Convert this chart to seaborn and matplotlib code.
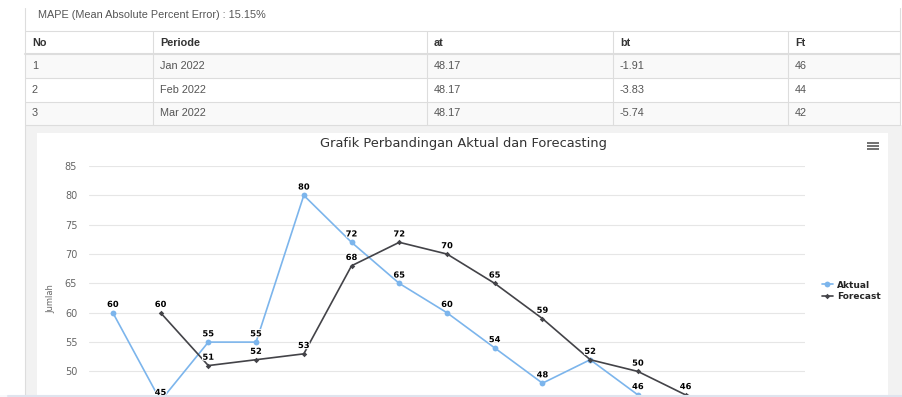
import numpy as np
import pandas as pd
import matplotlib
matplotlib.use("Agg")
import matplotlib.pyplot as plt
import matplotlib.patheffects as pe
from matplotlib.patches import Rectangle
import seaborn as sns

# ---- data ----
mape_text = "MAPE (Mean Absolute Percent Error) : 15.15%"
tbl_cols = ["No", "Periode", "at", "bt", "Ft"]
tbl_no = ["1", "2", "3"]
tbl_periode = ["Jan 2022", "Feb 2022", "Mar 2022"]
tbl_at = ["48.17", "48.17", "48.17"]
tbl_bt = ["-1.91", "-3.83", "-5.74"]
tbl_ft = ["46", "44", "42"]

bulan = ["Jan 2021", "Feb 2021", "Mar 2021", "Apr 2021", "Mei 2021", "Jun 2021",
         "Jul 2021", "Agu 2021", "Sep 2021", "Okt 2021", "Nov 2021", "Des 2021",
         "Jan 2022", "Feb 2022", "Mar 2022"]
aktual = [60, 45, 55, 55, 80, 72, 65, 60, 54, 48, 52, 46, np.nan, np.nan, np.nan]
forecast = [np.nan, 60, 51, 52, 53, 68, 72, 70, 65, 59, 52, 50, 46, 44, 42]

title = "Grafik Perbandingan Aktual dan Forecasting"
warna = {"Aktual": "#7cb5ec", "Forecast": "#434348"}
batas_tampil = 45  # screenshot is cut off below this value

# ---- long format ----
df = pd.DataFrame({"Bulan": bulan, "pos": range(len(bulan)),
                   "Aktual": aktual, "Forecast": forecast})
df = df.melt(id_vars=["Bulan", "pos"], var_name="Seri", value_name="Jumlah").dropna()

sns.set_style("white")
plt.rcParams["font.family"] = ["DejaVu Sans"]

W, H = 902, 397
fig = plt.figure(figsize=(W / 100, H / 100), dpi=100)

# background layer in pixel coordinates (table + panel)
bg = fig.add_axes([0, 0, 1, 1], zorder=0)
bg.set_xlim(0, W)
bg.set_ylim(H, 0)
bg.axis("off")

col_x = [25, 153, 427, 613, 788, 900]
row_y = [31, 54, 78, 102, 125]
line_c = "#dddddd"
tfont = dict(family="Liberation Sans", fontsize=7.8)

# stripes
for r in (0, 2):
    bg.add_patch(Rectangle((col_x[0], row_y[r + 1]), col_x[-1] - col_x[0],
                           row_y[r + 2] - row_y[r + 1], color="#f9f9f9", lw=0))
# panel below table
bg.add_patch(Rectangle((25, 125), 877, 272, color="#f2f2f2", lw=0))
bg.add_patch(Rectangle((37, 133), 851, 264, color="white", lw=0))

bg.plot([25, 25], [8, 397], color=line_c, lw=0.8)
bg.plot([900, 900], [8, 125], color=line_c, lw=0.8)
for i, y in enumerate(row_y):
    bg.plot([25, 900], [y, y], color=line_c, lw=1.5 if i == 1 else 0.8)
for x in col_x[1:-1]:
    bg.plot([x, x], [row_y[0], row_y[-1]], color=line_c, lw=0.8)

bg.text(38, 15, mape_text, color="#555555", va="center", **tfont)
for j, c in enumerate(tbl_cols):
    bg.text(col_x[j] + 7, (row_y[0] + row_y[1]) / 2, c, color="#333333",
            fontweight="bold", va="center", **tfont)
rows = list(zip(tbl_no, tbl_periode, tbl_at, tbl_bt, tbl_ft))
for r, vals in enumerate(rows):
    yc = (row_y[r + 1] + row_y[r + 2]) / 2
    for j, v in enumerate(vals):
        bg.text(col_x[j] + 7, yc, v, color="#555555", va="center", **tfont)

# hamburger menu icon
for y in (143, 146, 149):
    bg.plot([867, 879], [y, y], color="#666666", lw=1.3, solid_capstyle="butt")

# ---- chart ----
left, right, top = 89, 805, 166
ymin, ymax = 40, 85
px_per_unit = 29.35 / 5
bottom = top + (ymax - ymin) * px_per_unit
ax = fig.add_axes([left / W, (H - bottom) / H, (right - left) / W, (bottom - top) / H],
                  zorder=2)
ax.set_facecolor("none")

sns.lineplot(data=df, x="pos", y="Jumlah", hue="Seri", style="Seri",
             palette=warna, markers={"Aktual": "o", "Forecast": "D"}, dashes=False,
             markersize=4.2, markeredgewidth=0, linewidth=1.2, sort=False, ax=ax)
for ln in ax.lines:
    if ln.get_marker() == "D":
        ln.set_markersize(2.8)

for seri in ["Aktual", "Forecast"]:
    sub = df[(df["Seri"] == seri) & (df["Jumlah"] >= batas_tampil)]
    for p, v in zip(sub["pos"], sub["Jumlah"]):
        ax.annotate(f"{v:.0f}", (p, v), xytext=(0, 6), textcoords="offset points",
                    ha="center", va="center", fontsize=6, fontweight="bold",
                    color="black",
                    path_effects=[pe.withStroke(linewidth=1.5, foreground="white")])

ax.set_xlim(-0.5, len(bulan) - 0.5)
ax.set_ylim(ymin, ymax)
ax.set_yticks(np.arange(50, ymax + 1, 5))
ax.set_xticks(range(len(bulan)))
ax.set_xticklabels([])
ax.grid(axis="y", color="#e6e6e6", lw=0.8)
ax.grid(axis="x", visible=False)
for s in ax.spines.values():
    s.set_visible(False)
ax.tick_params(axis="y", length=0, pad=8.5, labelsize=7, labelcolor="#666666")
ax.tick_params(axis="x", length=0)
ax.set_xlabel("")
ax.set_ylabel("Jumlah", fontsize=6, color="#666666")
ax.yaxis.set_label_coords(-0.0475, 0.5)

handles, labels = ax.get_legend_handles_labels()
ax.legend(handles, labels, loc="center left", frameon=False,
          bbox_to_anchor=(817 / W, 1 - 291 / H), bbox_transform=fig.transFigure,
          prop=dict(weight="bold", size=6.5), handlelength=1.3, handletextpad=0.4,
          labelspacing=0.3, borderpad=0)

fig.text(463 / W, 1 - 144 / H, title, ha="center", va="center",
         fontsize=9.4, color="#333333")

# bottom screen edge drawn on top
top_layer = fig.add_axes([0, 0, 1, 1], zorder=5)
top_layer.set_xlim(0, W)
top_layer.set_ylim(H, 0)
top_layer.axis("off")
top_layer.add_patch(Rectangle((0, 395), W, 2, color="#f7f8fb", lw=0))
top_layer.plot([8, W], [395.5, 395.5], color="#dfe4ee", lw=1.5)

fig.savefig("out.png", dpi=100)
